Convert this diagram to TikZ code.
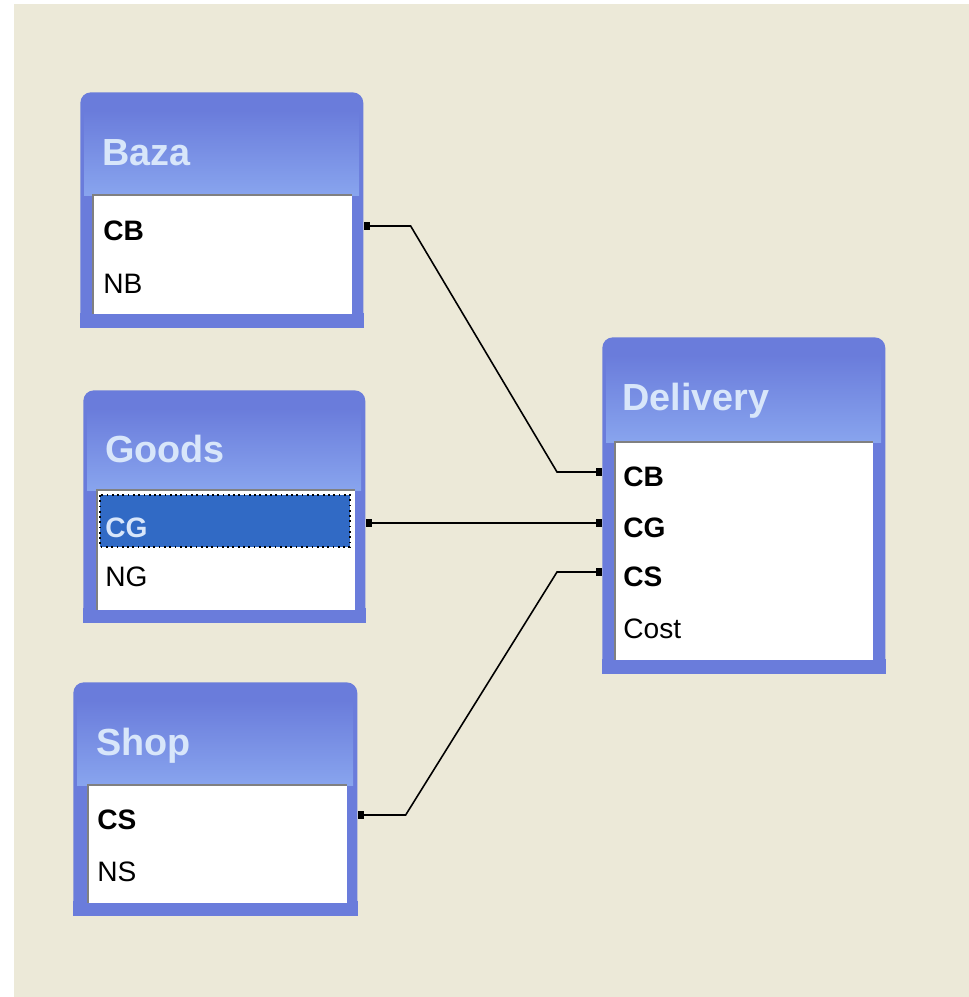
\documentclass[tikz,border=0pt]{standalone}
\usepackage{fontspec}
\setmainfont{Liberation Sans}
\usetikzlibrary{arrows.meta}
\definecolor{desk}{HTML}{ECE9D8}
\definecolor{frameblue}{HTML}{6A7CDB}
\definecolor{titlelight}{HTML}{88A4EE}
\definecolor{titletext}{HTML}{D8E6FA}
\definecolor{selblue}{HTML}{316AC5}
\begin{document}
\begin{tikzpicture}[x=0.02cm,y=-0.02cm,
  tablebox/.style={anchor=north west,fill=frameblue,rounded corners=6pt,inner sep=0pt},
  tabletitle/.style={anchor=base west,inner sep=0pt,text=titletext,font=\fontsize{21.5}{24}\selectfont\bfseries},
  field/.style={anchor=west,inner sep=0pt,text height=17pt,text depth=0pt,font=\fontsize{16}{18}\selectfont},
  key/.style={field,font=\fontsize{16}{18}\selectfont\bfseries},
  link/.style={line width=0.9pt,{Square[length=3.5pt,width=5pt]}-{Square[length=3.5pt,width=5pt]}}]
\useasboundingbox (0,0) rectangle (969,997);
\fill[white] (0,0) rectangle (969,997);
\fill[desk] (14,4) rectangle (969,997);
% Baza
\node[tablebox,minimum width=5.66cm,minimum height=4.7cm] (baza) at (80,92) {};
\fill[frameblue] ([yshift=0.3cm]baza.south west) rectangle (baza.south east);
\shade[top color=frameblue,bottom color=titlelight] (84,110) rectangle (359,195);
\fill[white] (93,195) rectangle (352,314);
\draw[gray,line width=1.2pt] (93,314) -- (93,195) -- (352,195);
\node[tabletitle] (bazatitle) at (102,165) {Baza};
\node[key] (bazaCB) at (103,226) {CB};
\node[field] (bazaNB) at (103,279) {NB};
% Goods
\node[tablebox,minimum width=5.64cm,minimum height=4.64cm] (goods) at (83,390) {};
\fill[frameblue] ([yshift=0.3cm]goods.south west) rectangle (goods.south east);
\shade[top color=frameblue,bottom color=titlelight] (87,408) rectangle (361,490);
\fill[white] (97,490) rectangle (355,610);
\draw[gray,line width=1.2pt] (97,610) -- (97,490) -- (355,490);
\filldraw[fill=selblue,draw=black,dotted,line width=1pt] (100,495) rectangle (350,547);
\node[tabletitle] (goodstitle) at (105,462) {Goods};
\node[key,text=titletext] (goodsCG) at (105,523) {CG};
\node[field] (goodsNG) at (105,572) {NG};
% Delivery
\node[tablebox,minimum width=5.66cm,minimum height=6.72cm] (delivery) at (602,337) {};
\fill[frameblue] ([yshift=0.3cm]delivery.south west) rectangle (delivery.south east);
\shade[top color=frameblue,bottom color=titlelight] (606,355) rectangle (881,442);
\fill[white] (615,442) rectangle (873,660);
\draw[gray,line width=1.2pt] (615,660) -- (615,442) -- (873,442);
\node[tabletitle] (deliverytitle) at (622,410) {Delivery};
\node[key] (deliveryCB) at (623,472) {CB};
\node[key] (deliveryCG) at (623,523) {CG};
\node[key] (deliveryCS) at (623,572) {CS};
\node[field] (deliveryCost) at (623,624) {Cost};
% Shop
\node[tablebox,minimum width=5.68cm,minimum height=4.66cm] (shop) at (73,682) {};
\fill[frameblue] ([yshift=0.3cm]shop.south west) rectangle (shop.south east);
\shade[top color=frameblue,bottom color=titlelight] (77,700) rectangle (353,785);
\fill[white] (88,785) rectangle (347,903);
\draw[gray,line width=1.2pt] (88,903) -- (88,785) -- (347,785);
\node[tabletitle] (shoptitle) at (96,755) {Shop};
\node[key] (shopCS) at (97,815) {CS};
\node[field] (shopNS) at (97,867) {NS};
% links
\coordinate (dCB) at (deliveryCB -| delivery.west);
\coordinate (dCG) at (deliveryCG -| delivery.west);
\coordinate (dCS) at (deliveryCS -| delivery.west);
\draw[link] (bazaCB -| baza.east) -- ++(47,0) -- ([xshift=-0.9cm]dCB) -- (dCB);
\draw[link] (goodsCG -| goods.east) -- (dCG);
\draw[link] (shopCS -| shop.east) -- ++(48,0) -- ([xshift=-0.9cm]dCS) -- (dCS);
\end{tikzpicture}
\end{document}
